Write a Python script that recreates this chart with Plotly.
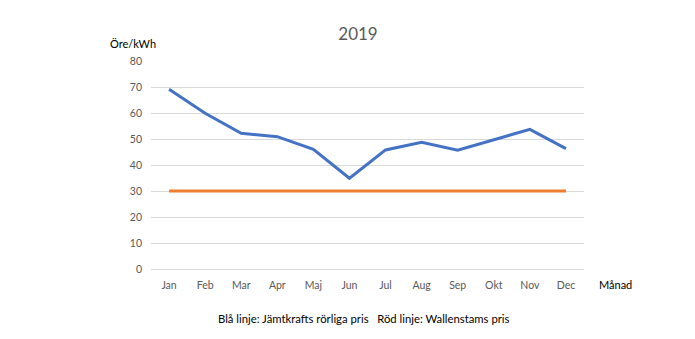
import plotly.graph_objects as go

months = ["Jan", "Feb", "Mar", "Apr", "Maj", "Jun", "Jul", "Aug", "Sep", "Okt", "Nov", "Dec"]
jamtkraft = [69.1, 59.9, 52.2, 50.9, 46.0, 34.9, 45.8, 48.7, 45.7, 49.6, 53.7, 46.3]
wallenstam = [30, 30, 30, 30, 30, 30, 30, 30, 30, 30, 30, 30]

FONT = "Lato, Carlito, sans-serif"

fig = go.Figure()
fig.add_trace(go.Scatter(x=months, y=jamtkraft, mode="lines",
                         line=dict(color="#4472C4", width=3), name="Jämtkraft"))
fig.add_trace(go.Scatter(x=months, y=wallenstam, mode="lines",
                         line=dict(color="#ED7D31", width=3), name="Wallenstam"))

fig.update_layout(
    width=695, height=339,
    margin=dict(l=151, r=111, t=61, b=70),
    paper_bgcolor="white", plot_bgcolor="white",
    showlegend=False,
    font=dict(family=FONT, color="#595959", size=11),
    title=dict(text="2019", x=358/695, xanchor="center", y=1-34/339, yanchor="middle",
               font=dict(size=17, color="#595959", family=FONT)),
    xaxis=dict(type="category", range=[-0.5, 11.5], showgrid=False, zeroline=False, showline=False,
               ticks="", tickfont=dict(size=10.5, color="#595959"), ticklabelstandoff=8),
    yaxis=dict(range=[0, 80], dtick=10, showgrid=True, gridcolor="#D9D9D9", gridwidth=1,
               zeroline=True, zerolinecolor="#D9D9D9", zerolinewidth=1,
               showline=False, ticks="", tickfont=dict(size=10.5, color="#595959"),
               ticklabelstandoff=8),
    annotations=[
        dict(text="Öre/kWh", xref="paper", yref="paper", x=(133-151)/433, y=1+(61-43)/208,
             xanchor="center", yanchor="middle", showarrow=False,
             font=dict(size=11, color="#000000", family=FONT)),
        dict(text="Månad", xref="paper", yref="paper", x=(615-151)/433, y=-(284-269)/208,
             xanchor="center", yanchor="middle", showarrow=False,
             font=dict(size=11, color="#000000", family=FONT)),
        dict(text="Blå linje: Jämtkrafts rörliga pris   Röd linje: Wallenstams pris",
             xref="paper", yref="paper", x=(364-151)/433, y=-(318-269)/208,
             xanchor="center", yanchor="middle", showarrow=False,
             font=dict(size=11.3, color="#000000", family=FONT)),
    ],
)

fig.write_html("out.html")
